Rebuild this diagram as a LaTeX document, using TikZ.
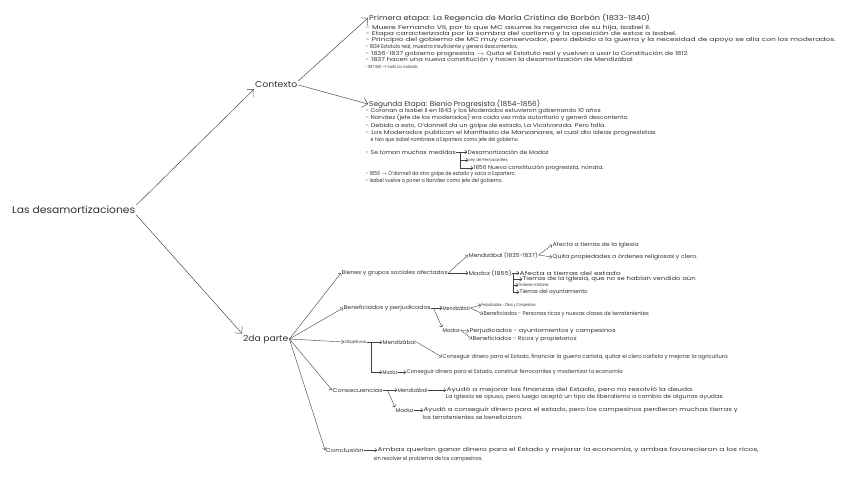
\documentclass[tikz,border=0pt]{standalone}
\usepackage{fontspec}
\setmainfont{Poppins}
\usetikzlibrary{arrows.meta}

\newcommand{\fw}[2]{\resizebox{#1pt}{\height}{#2}}

\tikzset{
  big/.style={anchor=west,inner sep=1pt,text=black!80,font=\fontsize{10}{12}\selectfont},
  mid/.style={anchor=west,inner sep=1pt,text=black!80,font=\fontsize{8.5}{10}\selectfont},
  ttl/.style={anchor=west,inner sep=1pt,text=black!80,font=\fontsize{7}{8}\selectfont},
  sm/.style={anchor=west,inner sep=0.5pt,text=black!80,font=\fontsize{5.5}{6.6}\selectfont},
  tiny/.style={sm,font=\fontsize{4.2}{5}\selectfont},
  arr/.style={-{Straight Barb[length=2pt,width=4pt]},black!75,line width=0.4pt},
  bigarr/.style={-{Straight Barb[length=5pt,width=10pt]},black!75,line width=0.45pt},
}

\begin{document}
\begin{tikzpicture}[x=1pt,y=-1pt]
\useasboundingbox[fill=white] (0,0) rectangle (848,477);

\node[big] (root) at (11,210) {\fw{123}{Las desamortizaciones}};
\node[mid] (ctx) at (254,85) {\fw{42}{Contexto}};
\node[mid] (part) at (242,339) {\fw{45}{2da parte}};
\draw[bigarr] (root.north east) -- (ctx.south west);
\draw[bigarr] (root.south east) -- (part.north west);

% contexto
\node[ttl] (p1) at (368,18) {\fw{281}{Primera etapa: La Regencia de María Cristina de Borbón (1833-1840)}};
\node[sm] (p1a) at (365,28) {\fw{285}{- Muere Fernando VII, por lo que MC asume la regencia de su hija, Isabel II.}};
\node[sm] (p1b) at (365,34) {\fw{311}{- Etapa caracterizada por la sombra del carlismo y la oposición de estos a Isabel.}};
\node[sm] (p1c) at (365,40.5) {\fw{470}{- Principio del gobierno de MC muy conservador, pero debido a la guerra y la necesidad de apoyo se alía con los moderados.}};
\node[sm] (p1d) at (365,47) {\fw{152}{- 1834 Estatuto real, muestra insuficiente y genera descontentos.}};
\node[sm] (p1e) at (365,54) {\fw{323}{- 1836-1837 gobierno progresista $\rightarrow$ Quita el Estatuto real y vuelven a usar la Constitución de 1812.}};
\node[sm] (p1f) at (365,60.5) {\fw{267}{- 1837 hacen una nueva constitución y hacen la desamortización de Mendizábal}};
\node[tiny] (p1g) at (365,67) {\fw{52}{- 1837-1840 $\rightarrow$ Vuelta a lo moderado}};
\draw[bigarr] (ctx.north east) -- (p1.west);

\node[ttl] (s1) at (368,104) {\fw{171}{Segunda Etapa: Bienio Progresista (1854-1856)}};
\node[sm] (s1a) at (365,111) {\fw{235}{- Coronan a Isabel II en 1843 y los Moderados estuvieron gobernando 10 años}};
\node[sm] (s1b) at (365,118) {\fw{263}{- Narváez (jefe de los moderados) era cada vez más autoritario y generó descontento.}};
\node[sm] (s1c) at (365,126) {\fw{240}{- Debido a esto, O'donnell da un golpe de estado, La Vicalvarada. Pero falla.}};
\node[sm] (s1d) at (365,133) {\fw{290}{- Los Moderados publican el Manifiesto de Manzanares, el cual dio ideas progresistas}};
\node[sm] (s1e) at (370,140) {\fw{148}{e hizo que Isabel nombrase a Espartero como jefe del gobierno.}};
\node[sm] (med) at (365,152) {\fw{90}{- Se toman muchas medidas}};
\node[sm] (desm) at (467,152) {\fw{81}{Desamortización de Madoz}};
\node[tiny] (ley) at (468,160) {\fw{39}{Ley de Ferrocarriles}};
\node[sm] (nueva) at (473,168) {\fw{130}{1856 Nueva constitución progresista, nonata.}};
\coordinate (medk) at ([xshift=4pt]med.east);
\draw[arr] (med.east) -- (desm.west);
\draw[arr] (medk) |- (ley.west);
\draw[arr] (medk) |- (nueva.west);
\node[sm] (s1f) at (365,174.5) {\fw{150}{- 1856 $\rightarrow$ O'donnell da otro golpe de estado y saca a Espartero.}};
\node[sm] (s1g) at (365,181) {\fw{137}{- Isabel vuelve a poner a Narváez como jefe del gobierno.}};
\draw[bigarr] (ctx.east) -- (s1.west);

% 2da parte
\node[sm] (bien) at (341,273) {\fw{106}{Bienes y grupos sociales afectados}};
\node[sm] (benp) at (343,308) {\fw{87}{Beneficiados y perjudicados}};
\node[tiny] (obj) at (344,342) {\fw{22}{Objetivos}};
\node[sm] (csq) at (332,390) {\fw{50}{Consecuencias}};
\node[sm] (concl) at (325,450) {\fw{38}{Conclusión}};
\foreach \n in {bien,benp,obj,csq,concl}
  \draw[arr] (part.east) -- (\n.west);

\node[sm] (mend1) at (468,255) {\fw{69}{Mendizábal (1835-1837)}};
\node[sm] (mad1) at (468,273) {\fw{43}{Madoz (1855)}};
\draw[arr] (bien.east) -- (mend1.west);
\draw[arr] (bien.east) -- (mad1.west);
\node[sm] (af1) at (552,245) {\fw{86}{Afecta a tierras de la iglesia}};
\node[sm] (qu1) at (552,257) {\fw{145}{Quita propiedades a órdenes religiosas y clero.}};
\draw[arr] (mend1.east) -- (af1.west);
\draw[arr] (mend1.east) -- (qu1.west);
\node[sm] (af2) at (519,273) {\fw{101}{Afecta a tierras del estado}};
\node[sm] (ti2) at (522,279) {\fw{173}{Tierras de la iglesia, que no se habían vendido aún}};
\node[tiny] (or2) at (518,285) {\fw{30}{Órdenes militares}};
\node[sm] (ay2) at (519,292) {\fw{68}{Tierras del ayuntamiento}};
\coordinate (madk) at ([xshift=1pt]mad1.east);
\draw[arr] (mad1.east) -- (af2.west);
\draw[arr] (madk) |- (ti2.west);
\draw[arr] (madk) |- (or2.west);
\draw[arr] (madk) |- (ay2.west);

\node[sm] (mend2) at (442,308) {\fw{27}{Mendizábal}};
\node[sm] (mad2) at (442,330) {\fw{17}{Madoz}};
\coordinate (benk) at ([xshift=2pt]benp.east);
\draw[arr] (benp.east) -- (mend2.west);
\draw[arr] (benk) -- (mad2.north west);
\node[tiny] (pj2) at (481,305) {\fw{54}{Perjudicados - Clero y Campesinos}};
\node[sm] (bf2) at (483,314) {\fw{165}{Beneficiados - Personas ricas y nuevas clases de terratenientes}};
\draw[arr] (mend2.east) -- (pj2.west);
\draw[arr] (mend2.east) -- (bf2.west);
\node[sm] (pj3) at (469,331) {\fw{146}{Perjudicados - ayuntamientos y campesinos}};
\node[sm] (bf3) at (472,339) {\fw{104}{Beneficiados - Ricos y propietarios}};
\draw[arr] (mad2.east) -- (pj3.west);
\draw[arr] (mad2.east) -- (bf3.west);

\node[sm] (mend3) at (382,342) {\fw{33}{Mendizábal}};
\node[sm] (mad3) at (382,372) {\fw{15}{Madoz}};
\coordinate (objk) at ([xshift=4pt]obj.east);
\draw[arr] (obj.east) -- (mend3.west);
\draw[arr] (objk) |- (mad3.west);
\node[sm] (goal1) at (442,357) {\fw{285}{Conseguir dinero para el Estado, financiar la guerra carlista, quitar el clero carlista y mejorar la agricultura}};
\node[sm] (goal2) at (406,372) {\fw{216}{Conseguir dinero para el Estado, construir ferrocarriles y modernizar la economía}};
\draw[arr] (mend3.east) -- (goal1.west);
\draw[arr] (mad3.east) -- (goal2.west);

\node[sm] (mend4) at (397,390) {\fw{30}{Mendizábal}};
\node[sm] (mad4) at (395,410) {\fw{18}{Madoz}};
\coordinate (csqk) at ([xshift=4pt]csq.east);
\draw[arr] (csq.east) -- (mend4.west);
\draw[arr] (csqk) -- (mad4.north west);
\node[sm] (res1) at (446,390) {\fw{247}{Ayudó a mejorar las finanzas del Estado, pero no resolvió la deuda.}};
\node[sm] (res1b) at (445,397) {\fw{278}{La iglesia se opuso, pero luego aceptó un tipo de liberalismo a cambio de algunas ayudas.}};
\node[sm] (res2) at (423,410) {\fw{314}{Ayudó a conseguir dinero para el estado, pero los campesinos perdieron muchas tierras y}};
\node[sm] (res2b) at (422,417) {\fw{100}{los terratenientes se beneficiaron.}};
\draw[arr] (mend4.east) -- (res1.west);
\draw[arr] (mad4.east) -- (res2.west);

\node[sm] (fin1) at (377,450) {\fw{381}{Ambas querían ganar dinero para el Estado y mejorar la economía, y ambas favorecieron a los ricos,}};
\node[sm] (fin2) at (373,459) {\fw{109}{sin resolver el problema de los campesinos.}};
\draw[arr] (concl.east) -- (fin1.west);
\end{tikzpicture}
\end{document}
